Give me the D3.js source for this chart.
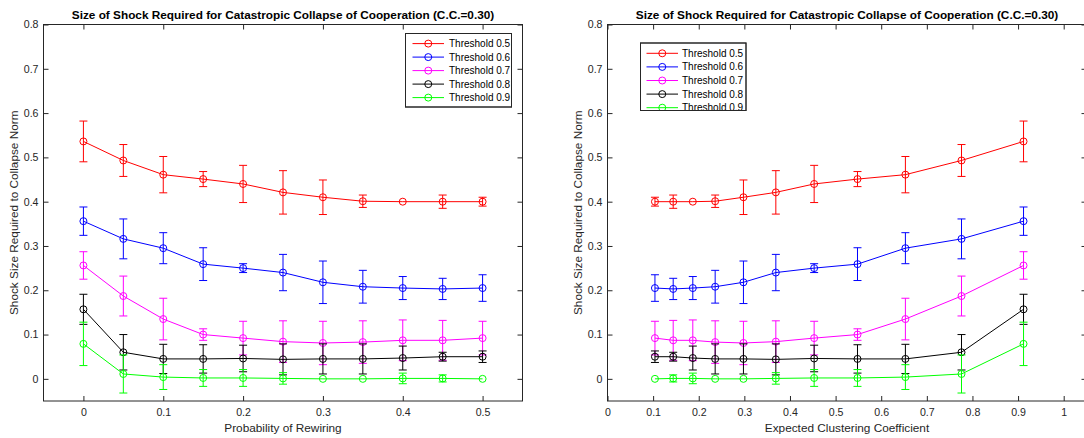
<!DOCTYPE html>
<html><head><meta charset="utf-8">
<script src="https://cdn.jsdelivr.net/npm/d3@7"></script>
<style>
body{margin:0;background:#fff}
svg{display:block}
text{font-family:"Liberation Sans",Arial,Helvetica,sans-serif}
</style>
</head><body>
<svg id="chart" width="1084" height="438"></svg>
<script>
// ---------------- data ----------------
const rewiringProb = [0, 0.05, 0.1, 0.15, 0.2, 0.25, 0.3, 0.35, 0.4, 0.45, 0.5];
const clusteringCoef = [0.912, 0.776, 0.653, 0.548, 0.453, 0.369, 0.298, 0.236, 0.187, 0.144, 0.104];

const seriesNames = ["Threshold 0.5", "Threshold 0.6", "Threshold 0.7", "Threshold 0.8", "Threshold 0.9"];
const seriesColors = ["#ff0000", "#0000ff", "#ff00ff", "#000000", "#00ff00"];

const mean05 = [0.536, 0.493, 0.461, 0.451, 0.440, 0.421, 0.410, 0.401, 0.400, 0.400, 0.400];
const err05  = [0.046, 0.036, 0.041, 0.017, 0.042, 0.049, 0.039, 0.014, 0.000, 0.015, 0.010];
const mean06 = [0.356, 0.316, 0.295, 0.259, 0.250, 0.240, 0.218, 0.208, 0.205, 0.203, 0.205];
const err06  = [0.032, 0.045, 0.035, 0.037, 0.010, 0.041, 0.048, 0.037, 0.026, 0.024, 0.030];
const mean07 = [0.256, 0.187, 0.135, 0.100, 0.092, 0.084, 0.081, 0.083, 0.087, 0.087, 0.092];
const err07  = [0.031, 0.045, 0.047, 0.013, 0.038, 0.047, 0.049, 0.048, 0.046, 0.045, 0.038];
const mean08 = [0.157, 0.060, 0.045, 0.045, 0.046, 0.044, 0.045, 0.045, 0.047, 0.050, 0.050];
const err08  = [0.034, 0.040, 0.033, 0.032, 0.030, 0.035, 0.034, 0.034, 0.027, 0.010, 0.013];
const mean09 = [0.079, 0.011, 0.004, 0.002, 0.002, 0.001, 0.000, 0.000, 0.001, 0.001, 0.000];
const err09  = [0.049, 0.043, 0.028, 0.019, 0.019, 0.013, 0.000, 0.000, 0.012, 0.008, 0.000];

const yTicks = [0, 0.1, 0.2, 0.3, 0.4, 0.5, 0.6, 0.7, 0.8];
const xTicksLeft = [0, 0.1, 0.2, 0.3, 0.4, 0.5];
const xTicksRight = [0, 0.1, 0.2, 0.3, 0.4, 0.5, 0.6, 0.7, 0.8, 0.9, 1];

const titleText = "Size of Shock Required for Catastropic Collapse of Cooperation (C.C.=0.30)";
const yLabelText = "Shock Size Required to Collapse Norm";
const xLabelLeft = "Probability of Rewiring";
const xLabelRight = "Expected Clustering Coefficient";

const means = [mean05, mean06, mean07, mean08, mean09];
const errs = [err05, err06, err07, err08, err09];

// ---------------- layout ----------------
const svg = d3.select("#chart");
svg.append("rect").attr("width", 1084).attr("height", 438).attr("fill", "#fff");
const axisColor = "#262626";
const plotTop = 24.5, plotBottom = 401;
const y = d3.scaleLinear().domain([-0.05, 0.8]).range([plotBottom, plotTop]);
const fmt = v => String(+v.toFixed(2));

const panels = [
  { x0: 43.5, x1: 522.5, domain: [-0.05, 0.55], ticks: xTicksLeft, xs: rewiringProb, xlabel: xLabelLeft,
    legend: { x: 405.5, y: 33.5, w: 106, h: 73.5, row0: 43.6, rowStep: 13.5, lineX0: 412.5, lineX1: 444, textX: 449 } },
  { x0: 607.5, x1: 1086.5, domain: [0, 1.05], ticks: xTicksRight, xs: clusteringCoef, xlabel: xLabelRight,
    legend: { x: 640.5, y: 43, w: 105.5, h: 67.5, row0: 53.3, rowStep: 13.6, lineX0: 646.5, lineX1: 678, textX: 682 } }
];

panels.forEach((p, pi) => {
  const x = d3.scaleLinear().domain(p.domain).range([p.x0, p.x1]);
  const g = svg.append("g");
  const plotW = p.x1 - p.x0;

  const clipId = "clip" + pi;
  svg.append("clipPath").attr("id", clipId).append("rect")
    .attr("x", p.x0).attr("y", plotTop).attr("width", plotW).attr("height", plotBottom - plotTop);

  // axes
  const ax = g.append("g").attr("class", "axes");
  ax.append("g").attr("transform", `translate(0,${plotBottom})`)
    .call(d3.axisBottom(x).tickValues(p.ticks).tickFormat(fmt).tickSizeInner(-5).tickSizeOuter(0).tickPadding(7));
  ax.append("g").attr("transform", `translate(0,${plotTop})`)
    .call(d3.axisTop(x).tickValues(p.ticks).tickFormat("").tickSizeInner(-5).tickSizeOuter(0));
  ax.append("g").attr("transform", `translate(${p.x0},0)`)
    .call(d3.axisLeft(y).tickValues(yTicks).tickFormat(fmt).tickSizeInner(-5).tickSizeOuter(0).tickPadding(5));
  ax.append("g").attr("transform", `translate(${p.x1},0)`)
    .call(d3.axisRight(y).tickValues(yTicks).tickFormat("").tickSizeInner(-5).tickSizeOuter(0));
  ax.selectAll(".domain").remove();
  ax.selectAll(".tick line").attr("stroke", axisColor).attr("stroke-width", 1);
  ax.selectAll(".tick text").attr("fill", axisColor).attr("font-size", "10.6px").attr("font-family", '"Liberation Sans",Arial,sans-serif');

  // box
  g.append("rect").attr("x", p.x0).attr("y", plotTop).attr("width", plotW).attr("height", plotBottom - plotTop)
    .attr("fill", "none").attr("stroke", axisColor).attr("stroke-width", 1);

  // title and labels
  g.append("text").attr("x", (p.x0 + p.x1) / 2).attr("y", 18.5).attr("text-anchor", "middle")
    .attr("font-weight", "bold").attr("font-size", "11.8px").attr("fill", "#000").text(titleText);
  g.append("text").attr("x", (p.x0 + p.x1) / 2).attr("y", 432).attr("text-anchor", "middle")
    .attr("font-size", "11.8px").attr("fill", axisColor).text(p.xlabel);
  g.append("text").attr("transform", `translate(${p.x0 - 26},${(plotTop + plotBottom) / 2}) rotate(-90)`)
    .attr("text-anchor", "middle").attr("font-size", "11.8px").attr("fill", axisColor).text(yLabelText);

  // series
  const plot = g.append("g").attr("clip-path", `url(#${clipId})`);
  means.forEach((m, si) => {
    const col = seriesColors[si];
    const pts = m.map((v, i) => ({ x: p.xs[i], y: v, e: errs[si][i] }));
    const sg = plot.append("g");
    sg.append("path").datum(pts)
      .attr("d", d3.line().x(d => x(d.x)).y(d => y(d.y)))
      .attr("fill", "none").attr("stroke", col).attr("stroke-width", 1);
    const eb = sg.selectAll("g.eb").data(pts.filter(d => d.e > 0)).join("g").attr("class", "eb");
    eb.append("line").attr("x1", d => x(d.x)).attr("x2", d => x(d.x))
      .attr("y1", d => y(d.y - d.e)).attr("y2", d => y(d.y + d.e))
      .attr("stroke", col).attr("stroke-width", 1);
    eb.append("line").attr("x1", d => x(d.x) - 4).attr("x2", d => x(d.x) + 4)
      .attr("y1", d => y(d.y + d.e)).attr("y2", d => y(d.y + d.e))
      .attr("stroke", col).attr("stroke-width", 1);
    eb.append("line").attr("x1", d => x(d.x) - 4).attr("x2", d => x(d.x) + 4)
      .attr("y1", d => y(d.y - d.e)).attr("y2", d => y(d.y - d.e))
      .attr("stroke", col).attr("stroke-width", 1);
    sg.selectAll("circle").data(pts).join("circle")
      .attr("cx", d => x(d.x)).attr("cy", d => y(d.y)).attr("r", 3.5)
      .attr("fill", "none").attr("stroke", col).attr("stroke-width", 1);
  });

  // legend
  const L = p.legend;
  const lclip = "lclip" + pi;
  svg.append("clipPath").attr("id", lclip).append("rect")
    .attr("x", L.x).attr("y", L.y).attr("width", L.w).attr("height", L.h);
  const lg = g.append("g");
  lg.append("rect").attr("x", L.x).attr("y", L.y).attr("width", L.w).attr("height", L.h)
    .attr("fill", "#fff").attr("stroke", axisColor).attr("stroke-width", 1);
  const items = lg.append("g").attr("clip-path", `url(#${lclip})`);
  seriesNames.forEach((name, si) => {
    const ry = L.row0 + si * L.rowStep;
    const col = seriesColors[si];
    items.append("line").attr("x1", L.lineX0).attr("x2", L.lineX1).attr("y1", ry).attr("y2", ry)
      .attr("stroke", col).attr("stroke-width", 1);
    items.append("circle").attr("cx", (L.lineX0 + L.lineX1) / 2).attr("cy", ry).attr("r", 3.5)
      .attr("fill", "none").attr("stroke", col).attr("stroke-width", 1);
    items.append("text").attr("x", L.textX).attr("y", ry).attr("dy", "0.35em")
      .attr("font-size", "10px").attr("fill", "#000").text(name);
  });
  lg.append("rect").attr("x", L.x).attr("y", L.y).attr("width", L.w).attr("height", L.h)
    .attr("fill", "none").attr("stroke", axisColor).attr("stroke-width", 1);
});
</script>
</body></html>
